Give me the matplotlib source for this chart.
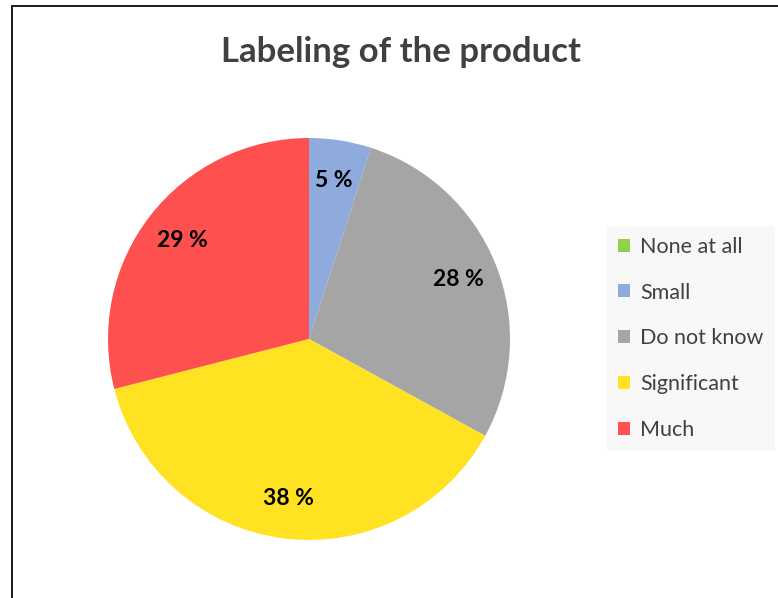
import matplotlib.pyplot as plt
from matplotlib.patches import Rectangle, Patch

categories = ["None at all", "Small", "Do not know", "Significant", "Much"]
shares = [0, 5, 28, 38, 29]
colors = ["#92d050", "#8faadc", "#a5a5a5", "#ffe221", "#ff5050"]

plt.rcParams['font.family'] = ['Lato', 'DejaVu Sans']

fig = plt.figure(figsize=(7.78, 5.98), dpi=100)

# chart frame (left and top edges visible)
fig.patches.append(Rectangle((11.5 / 778, -0.1), 1.2, 1 - 5.5 / 598 + 0.1,
                             transform=fig.transFigure, fill=False,
                             edgecolor="#1a1a1a", linewidth=1.4))

fig.text(401 / 778, 1 - 52 / 598, "Labeling of the product", ha="center", va="center",
         fontsize=25, fontweight="bold", color="#404040")

ax = fig.add_axes([108 / 778, 58 / 598, 402 / 778, 402 / 598])
wedges, texts, autotexts = ax.pie(
    shares, colors=colors, startangle=90, counterclock=False,
    autopct=lambda p: f"{p:.0f} %" if p >= 0.5 else "",
    pctdistance=0.8, wedgeprops=dict(linewidth=0),
    textprops=dict(fontsize=16.5, fontweight="bold", color="black"))
ax.set_xlim(-1, 1)
ax.set_ylim(-1, 1)
ax.set_aspect("equal")

handles = [Patch(facecolor=c, edgecolor="none") for c in colors]
leg = fig.legend(handles, categories, loc="upper left",
                 bbox_to_anchor=(607 / 778, 1 - 226 / 598),
                 frameon=True, fontsize=15.5, labelspacing=1.2,
                 handlelength=0.55, handleheight=0.55, handletextpad=0.5,
                 borderpad=0.5, borderaxespad=0, fancybox=False)
leg.get_frame().set_facecolor("#f7f7f7")
leg.get_frame().set_edgecolor("none")
for t in leg.get_texts():
    t.set_color("#404040")

fig.savefig("out.png", dpi=100)
